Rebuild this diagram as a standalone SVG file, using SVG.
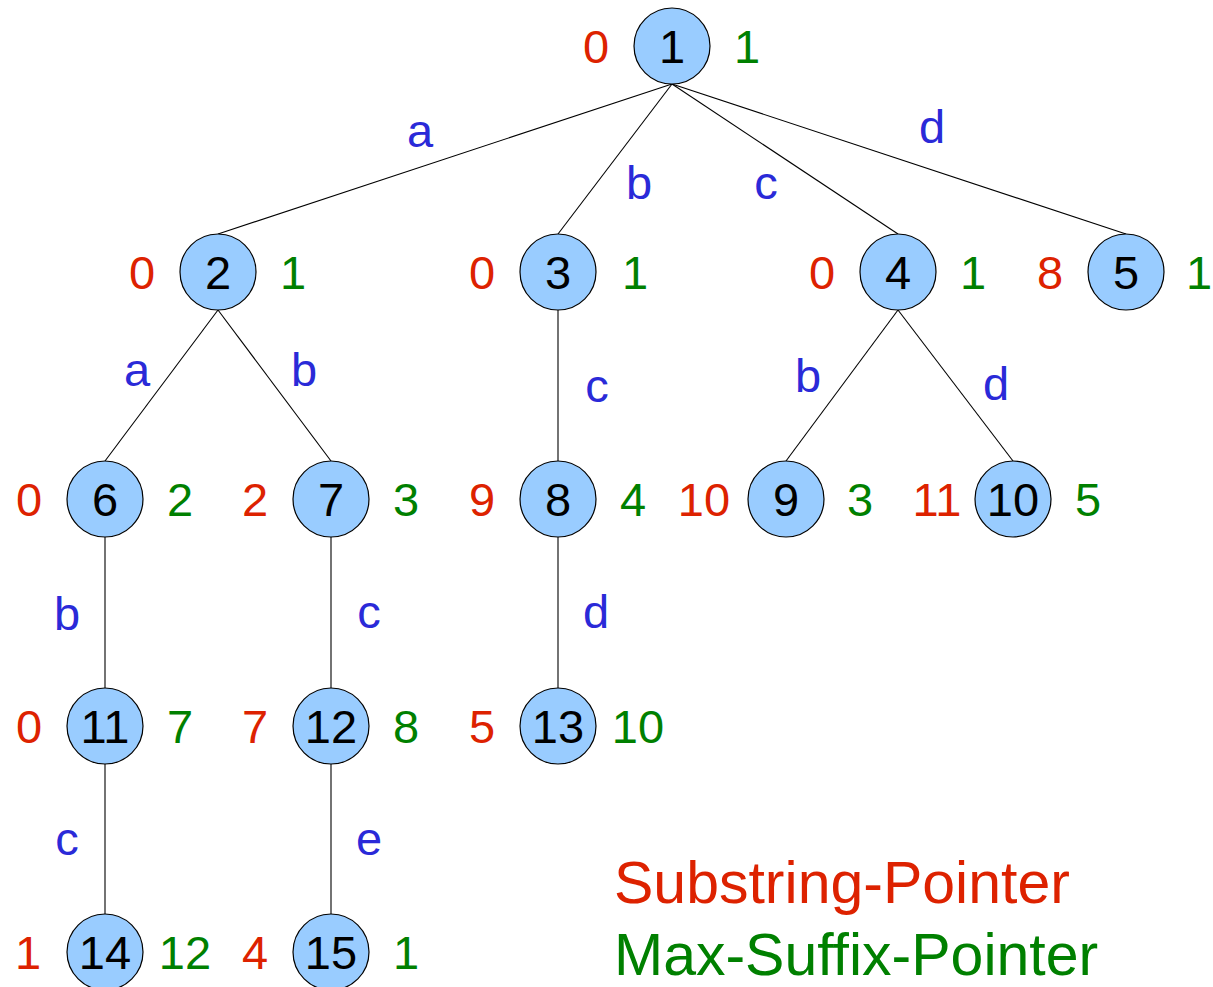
<svg xmlns="http://www.w3.org/2000/svg" width="1213" height="987" viewBox="0 0 1213 987">
<style>
text{font-family:"Liberation Sans",Arial,sans-serif;font-size:47px;text-anchor:middle}
.n{fill:#99ccff;stroke:#000;stroke-width:1.2}
.t{fill:#000}
.r{fill:#dd2200}
.g{fill:#008000}
.e{fill:#2a2ad8}
.edges line{stroke:#000;stroke-width:1.1}
.leg{font-size:59px;text-anchor:start}
</style>
<rect width="1213" height="987" fill="#fff"/>
<g id="connectors" class="edges">
<line x1="672" y1="84" x2="218" y2="234"/>
<line x1="672" y1="84" x2="558" y2="234"/>
<line x1="672" y1="84" x2="898" y2="234"/>
<line x1="672" y1="84" x2="1126" y2="234"/>
<line x1="218" y1="310" x2="105" y2="461"/>
<line x1="218" y1="310" x2="331" y2="461"/>
<line x1="558" y1="310" x2="558" y2="461"/>
<line x1="898" y1="310" x2="786" y2="461"/>
<line x1="898" y1="310" x2="1013" y2="461"/>
<line x1="105" y1="537" x2="105" y2="688"/>
<line x1="331" y1="537" x2="331" y2="688"/>
<line x1="558" y1="537" x2="558" y2="688"/>
<line x1="105" y1="764" x2="105" y2="914"/>
<line x1="331" y1="764" x2="331" y2="914"/>
</g>
<g id="edge-labels">
<text class="e" x="420" y="147">a</text>
<text class="e" x="639" y="199">b</text>
<text class="e" x="766" y="199">c</text>
<text class="e" x="932" y="143">d</text>
<text class="e" x="137" y="386">a</text>
<text class="e" x="304" y="386">b</text>
<text class="e" x="597" y="402">c</text>
<text class="e" x="808" y="392">b</text>
<text class="e" x="996" y="400">d</text>
<text class="e" x="67" y="630">b</text>
<text class="e" x="369" y="628">c</text>
<text class="e" x="596" y="628">d</text>
<text class="e" x="67" y="855">c</text>
<text class="e" x="369" y="855">e</text>
</g>
<g id="node1"><circle class="n" cx="672" cy="46" r="38"/><text class="t" x="672" y="63">1</text><text class="r" x="596" y="63">0</text><text class="g" x="747" y="63">1</text></g>
<g id="node2"><circle class="n" cx="218" cy="272" r="38"/><text class="t" x="218" y="289">2</text><text class="r" x="142" y="289">0</text><text class="g" x="293" y="289">1</text></g>
<g id="node3"><circle class="n" cx="558" cy="272" r="38"/><text class="t" x="558" y="289">3</text><text class="r" x="482" y="289">0</text><text class="g" x="635" y="289">1</text></g>
<g id="node4"><circle class="n" cx="898" cy="272" r="38"/><text class="t" x="898" y="289">4</text><text class="r" x="822" y="289">0</text><text class="g" x="973" y="289">1</text></g>
<g id="node5"><circle class="n" cx="1126" cy="272" r="38"/><text class="t" x="1126" y="289">5</text><text class="r" x="1050" y="289">8</text><text class="g" x="1199" y="289">1</text></g>
<g id="node6"><circle class="n" cx="105" cy="499" r="38"/><text class="t" x="105" y="516">6</text><text class="r" x="29" y="516">0</text><text class="g" x="180" y="516">2</text></g>
<g id="node7"><circle class="n" cx="331" cy="499" r="38"/><text class="t" x="331" y="516">7</text><text class="r" x="255" y="516">2</text><text class="g" x="406" y="516">3</text></g>
<g id="node8"><circle class="n" cx="558" cy="499" r="38"/><text class="t" x="558" y="516">8</text><text class="r" x="482" y="516">9</text><text class="g" x="633" y="516">4</text></g>
<g id="node9"><circle class="n" cx="786" cy="499" r="38"/><text class="t" x="786" y="516">9</text><text class="r" x="704" y="516">10</text><text class="g" x="860" y="516">3</text></g>
<g id="node10"><circle class="n" cx="1013" cy="499" r="38"/><text class="t" x="1013" y="516">10</text><text class="r" x="937" y="516">11</text><text class="g" x="1088" y="516">5</text></g>
<g id="node11"><circle class="n" cx="105" cy="726" r="38"/><text class="t" x="105" y="743">11</text><text class="r" x="29" y="743">0</text><text class="g" x="180" y="743">7</text></g>
<g id="node12"><circle class="n" cx="331" cy="726" r="38"/><text class="t" x="331" y="743">12</text><text class="r" x="255" y="743">7</text><text class="g" x="406" y="743">8</text></g>
<g id="node13"><circle class="n" cx="558" cy="726" r="38"/><text class="t" x="558" y="743">13</text><text class="r" x="482" y="743">5</text><text class="g" x="638" y="743">10</text></g>
<g id="node14"><circle class="n" cx="105" cy="952" r="38"/><text class="t" x="105" y="969">14</text><text class="r" x="28" y="969">1</text><text class="g" x="185" y="969">12</text></g>
<g id="node15"><circle class="n" cx="331" cy="952" r="38"/><text class="t" x="331" y="969">15</text><text class="r" x="255" y="969">4</text><text class="g" x="406" y="969">1</text></g>
<g id="legend">
<text class="r leg" x="614" y="903">Substring-Pointer</text>
<text class="g leg" x="614" y="975">Max-Suffix-Pointer</text>
</g>
</svg>
